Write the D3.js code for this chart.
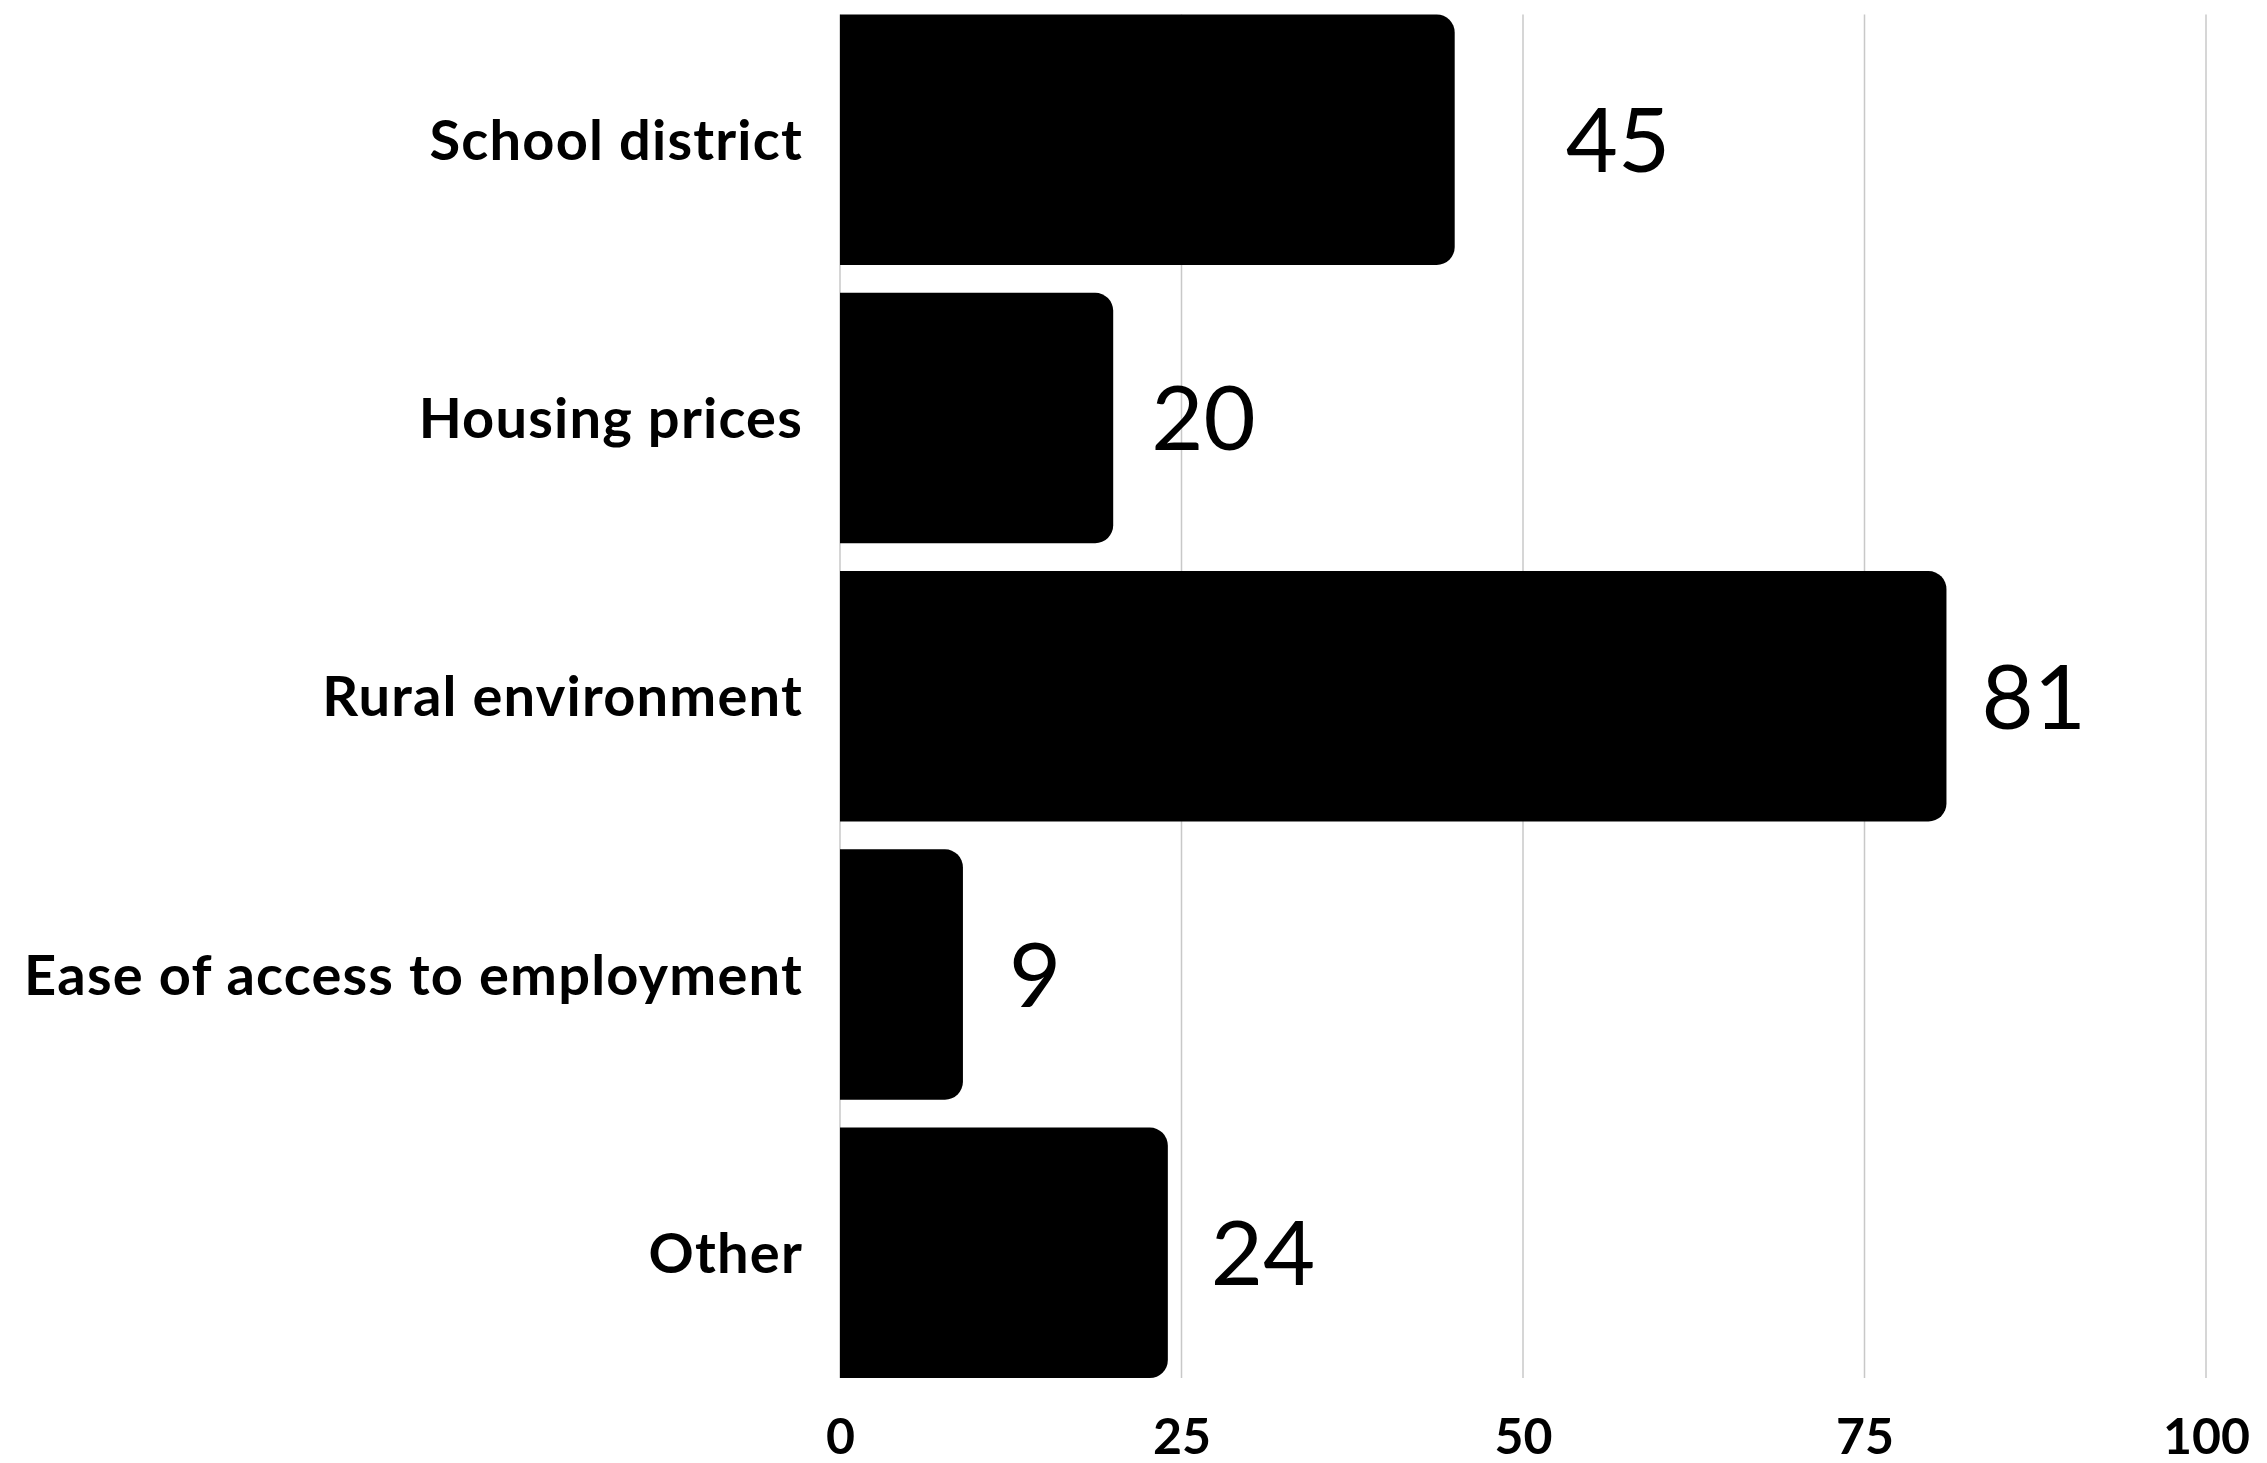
<!DOCTYPE html>
<html>
<head>
<meta charset="utf-8">
<script src="https://cdn.jsdelivr.net/npm/d3@7"></script>
<style>
  html, body { margin: 0; padding: 0; background: #fff; }
  svg { display: block; }
</style>
</head>
<body>
<svg id="chart" width="2267" height="1463"></svg>
<script>
// Reasons given for choosing the area
const categories = ["School district", "Housing prices", "Rural environment", "Ease of access to employment", "Other"];
const values = [45, 20, 81, 9, 24];
const tickValues = [0, 25, 50, 75, 100];

// Horizontal gap between each bar end and its value label
const valueLabelGap = [111, 38, 35, 46, 43];

const W = 2267, H = 1463;
const margin = { top: 14.5, right: 61, bottom: 85, left: 840 };

const svg = d3.select("#chart");

const x = d3.scaleLinear()
  .domain([0, 100])
  .range([margin.left, W - margin.right]);

const y = d3.scaleBand()
  .domain(categories)
  .range([margin.top, H - margin.bottom])
  .paddingInner(0.1)
  .paddingOuter(0);

const plotTop = margin.top, plotBottom = H - margin.bottom;

// Vertical gridlines
svg.append("g")
  .selectAll("line")
  .data(tickValues)
  .join("line")
  .attr("x1", d => x(d)).attr("x2", d => x(d))
  .attr("y1", plotTop).attr("y2", plotBottom)
  .attr("stroke", "#c8c8c8")
  .attr("stroke-width", 1.5);

// Bars with rounded right-hand corners
const r = 18;
function barPath(x0, x1, y0, h) {
  const rr = Math.min(r, (x1 - x0), h / 2);
  return `M${x0},${y0}H${x1 - rr}A${rr},${rr} 0 0 1 ${x1},${y0 + rr}` +
         `V${y0 + h - rr}A${rr},${rr} 0 0 1 ${x1 - rr},${y0 + h}H${x0}Z`;
}

svg.append("g")
  .selectAll("path")
  .data(categories)
  .join("path")
  .attr("d", (c, i) => barPath(x(0), x(values[i]), y(c), y.bandwidth()))
  .attr("fill", "#000");

// Value labels
svg.append("g")
  .selectAll("text")
  .data(categories)
  .join("text")
  .attr("x", (c, i) => x(values[i]) + valueLabelGap[i])
  .attr("y", c => y(c) + y.bandwidth() / 2)
  .attr("dy", "0.36em")
  .attr("font-family", "Lato, sans-serif")
  .attr("font-weight", 400)
  .attr("font-size", 90)
  .attr("fill", "#000")
  .text((c, i) => values[i]);

// Category axis
const yAxis = svg.append("g")
  .attr("transform", `translate(${margin.left},0)`)
  .call(d3.axisLeft(y).tickSize(0).tickPadding(37));
yAxis.select(".domain").remove();
yAxis.selectAll("text")
  .attr("font-family", "Lato, sans-serif")
  .attr("font-weight", 700)
  .attr("font-size", 56)
  .attr("letter-spacing", "1.2px")
  .attr("fill", "#000")
  .attr("dy", "0.36em");

// Value axis
const xAxis = svg.append("g")
  .attr("transform", `translate(0,${plotBottom})`)
  .call(d3.axisBottom(x).tickValues(tickValues).tickSize(0).tickPadding(40));
xAxis.select(".domain").remove();
xAxis.selectAll("text")
  .attr("font-family", "Lato, sans-serif")
  .attr("font-weight", 700)
  .attr("font-size", 50)
  .attr("fill", "#000");
</script>
</body>
</html>
